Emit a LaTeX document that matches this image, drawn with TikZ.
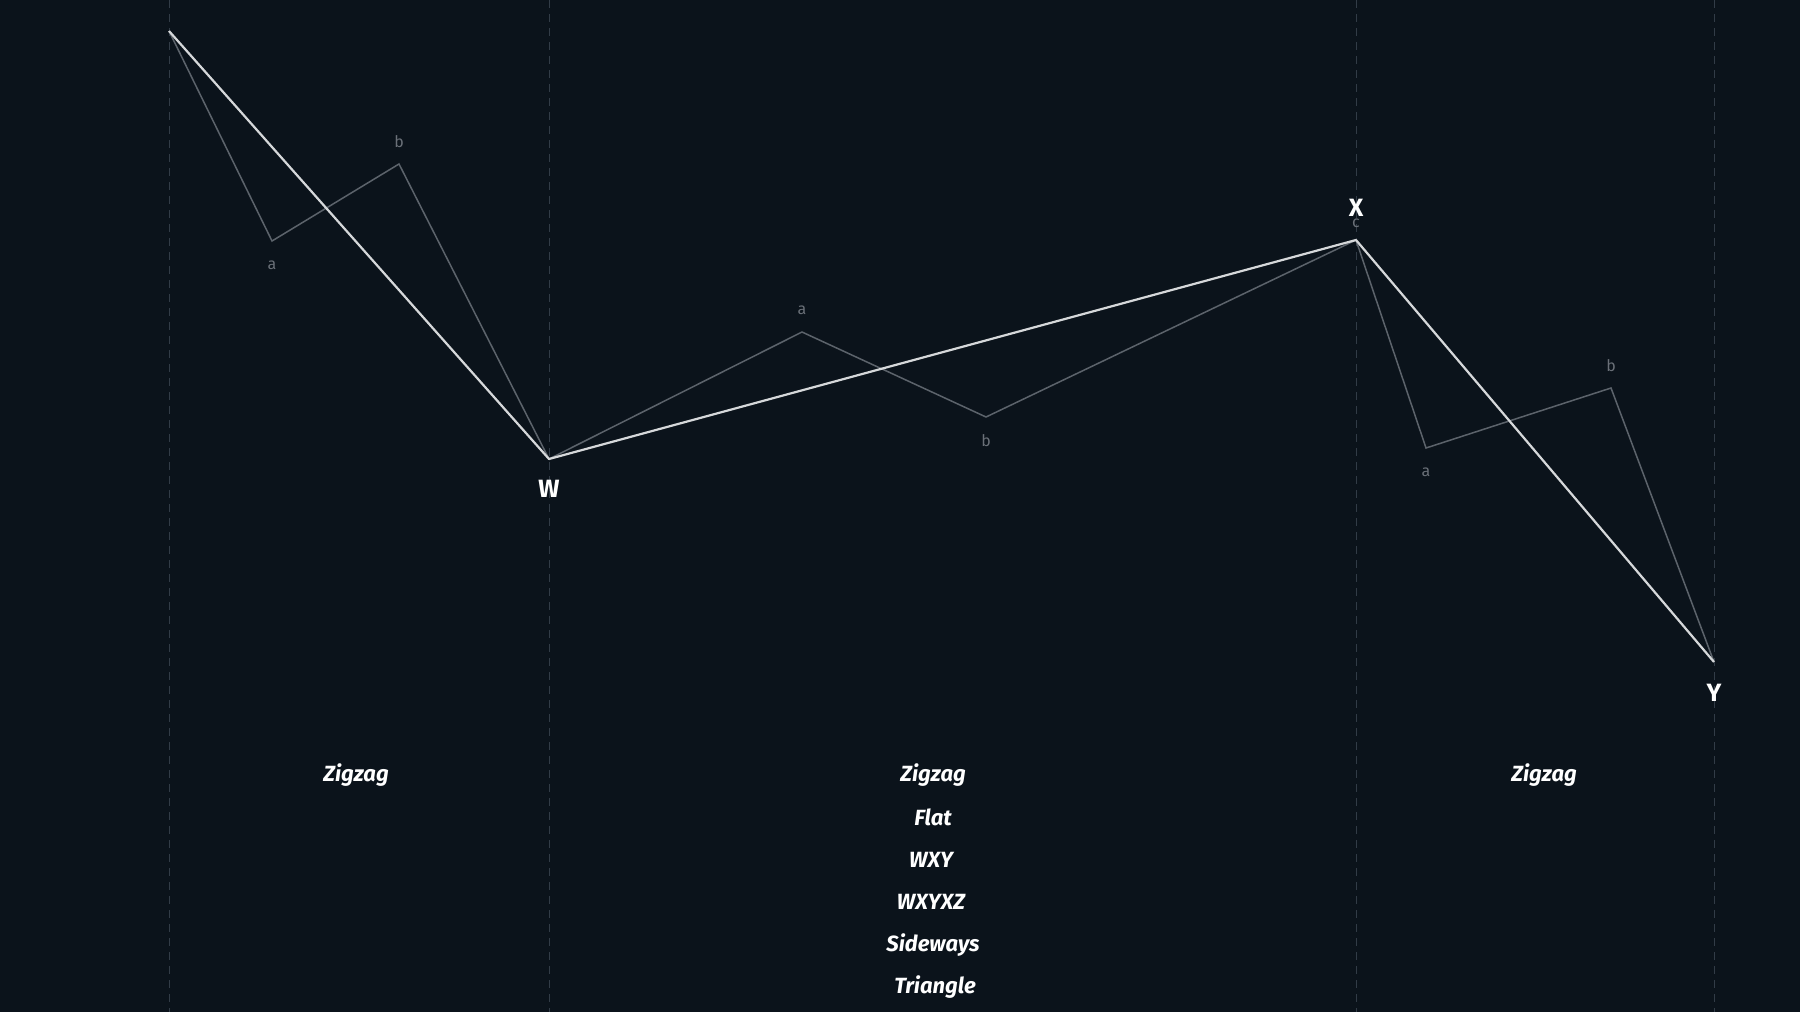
\documentclass[tikz,border=0pt]{standalone}
\usepackage{fontspec}
\setmainfont{Fira Sans}
\usepackage{tikz}
\usetikzlibrary{calc}
\definecolor{bgnavy}{HTML}{0B131B}
\definecolor{gridgrey}{HTML}{323C47}
\definecolor{subgrey}{HTML}{5C636B}
\definecolor{mainwhite}{HTML}{D6D8DA}
\definecolor{lblgrey}{HTML}{6A7078}
\tikzset{
	wavemain/.style={draw=mainwhite, line width=1.1pt, line join=round},
	wavesub/.style={draw=subgrey, line width=0.75pt, line join=miter},
	divider/.style={draw=gridgrey, line width=0.5pt, dash pattern=on 4pt off 3pt},
	sublbl/.style={text=lblgrey, font=\fontsize{8}{9}\selectfont, inner sep=0pt},
	mainlbl/.style={text=white, font=\fontsize{12.5}{14}\selectfont\bfseries, inner sep=0pt},
	typelbl/.style={text=white, font=\fontsize{11}{12}\selectfont\bfseries\itshape, inner sep=0pt}
}

\begin{document}
\begin{tikzpicture}[x=0.5pt, y=-0.5pt]
		%%%%% START %%%%%
		\fill[bgnavy] (0, 0) rectangle (1800, 1012);
		\useasboundingbox (0, 0) rectangle (1800, 1012);
		
		% turning points
		\coordinate (start) at (169, 31);
		\coordinate (w) at (549, 459);
		\coordinate (x) at (1356, 240);
		\coordinate (y) at (1714, 662);
		
		% vertical dividers
		\foreach \xd in {169, 549, 1356, 1714}
			\draw[divider] (\xd, 0) -- (\xd, 1012);
		
		% first zigzag
		\coordinate (wa) at (272, 241);
		\coordinate (wb) at (399, 164);
		\draw[wavesub] (start) -- (wa) -- (wb) -- (w);
		\node[sublbl] (lwa) at (272, 265) {a};
		\node[sublbl] (lwb) at (399, 142) {b};
		
		% connecting wave
		\coordinate (xa) at (802, 332);
		\coordinate (xb) at (986, 417);
		\draw[wavesub] (w) -- (xa) -- (xb) -- (x);
		\node[sublbl] (lxa) at (802, 310) {a};
		\node[sublbl] (lxb) at (986, 441) {b};
		\node[sublbl] (lxc) at (1356, 223) {c};
		
		% second zigzag
		\coordinate (ya) at (1426, 448);
		\coordinate (yb) at (1611, 388);
		\draw[wavesub] (x) -- (ya) -- (yb) -- (y);
		\node[sublbl] (lya) at (1426, 472) {a};
		\node[sublbl] (lyb) at (1611, 366) {b};
		
		% main swing
		\draw[wavemain] (start) -- (w) -- (x) -- (y);
		
		\node[mainlbl] (lw) at (549, 489) {W};
		\node[mainlbl] (lx) at (1356, 208) {X};
		\node[mainlbl] (ly) at (1714, 693) {Y};
		
		% pattern names
		\node[typelbl] (tw) at (356, 775) {Zigzag};
		\node[typelbl] (tx1) at (933, 775) {Zigzag};
		\node[typelbl] (tx2) at (933, 817) {Flat};
		\node[typelbl] (tx3) at (931, 860) {WXY};
		\node[typelbl] (tx4) at (931, 902) {WXYXZ};
		\node[typelbl] (tx5) at (933, 945) {Sideways};
		\node[typelbl] (tx6) at (935, 987) {Triangle};
		\node[typelbl] (ty) at (1544, 775) {Zigzag};
		%%%%% END %%%%%
	\end{tikzpicture}
\end{document}
